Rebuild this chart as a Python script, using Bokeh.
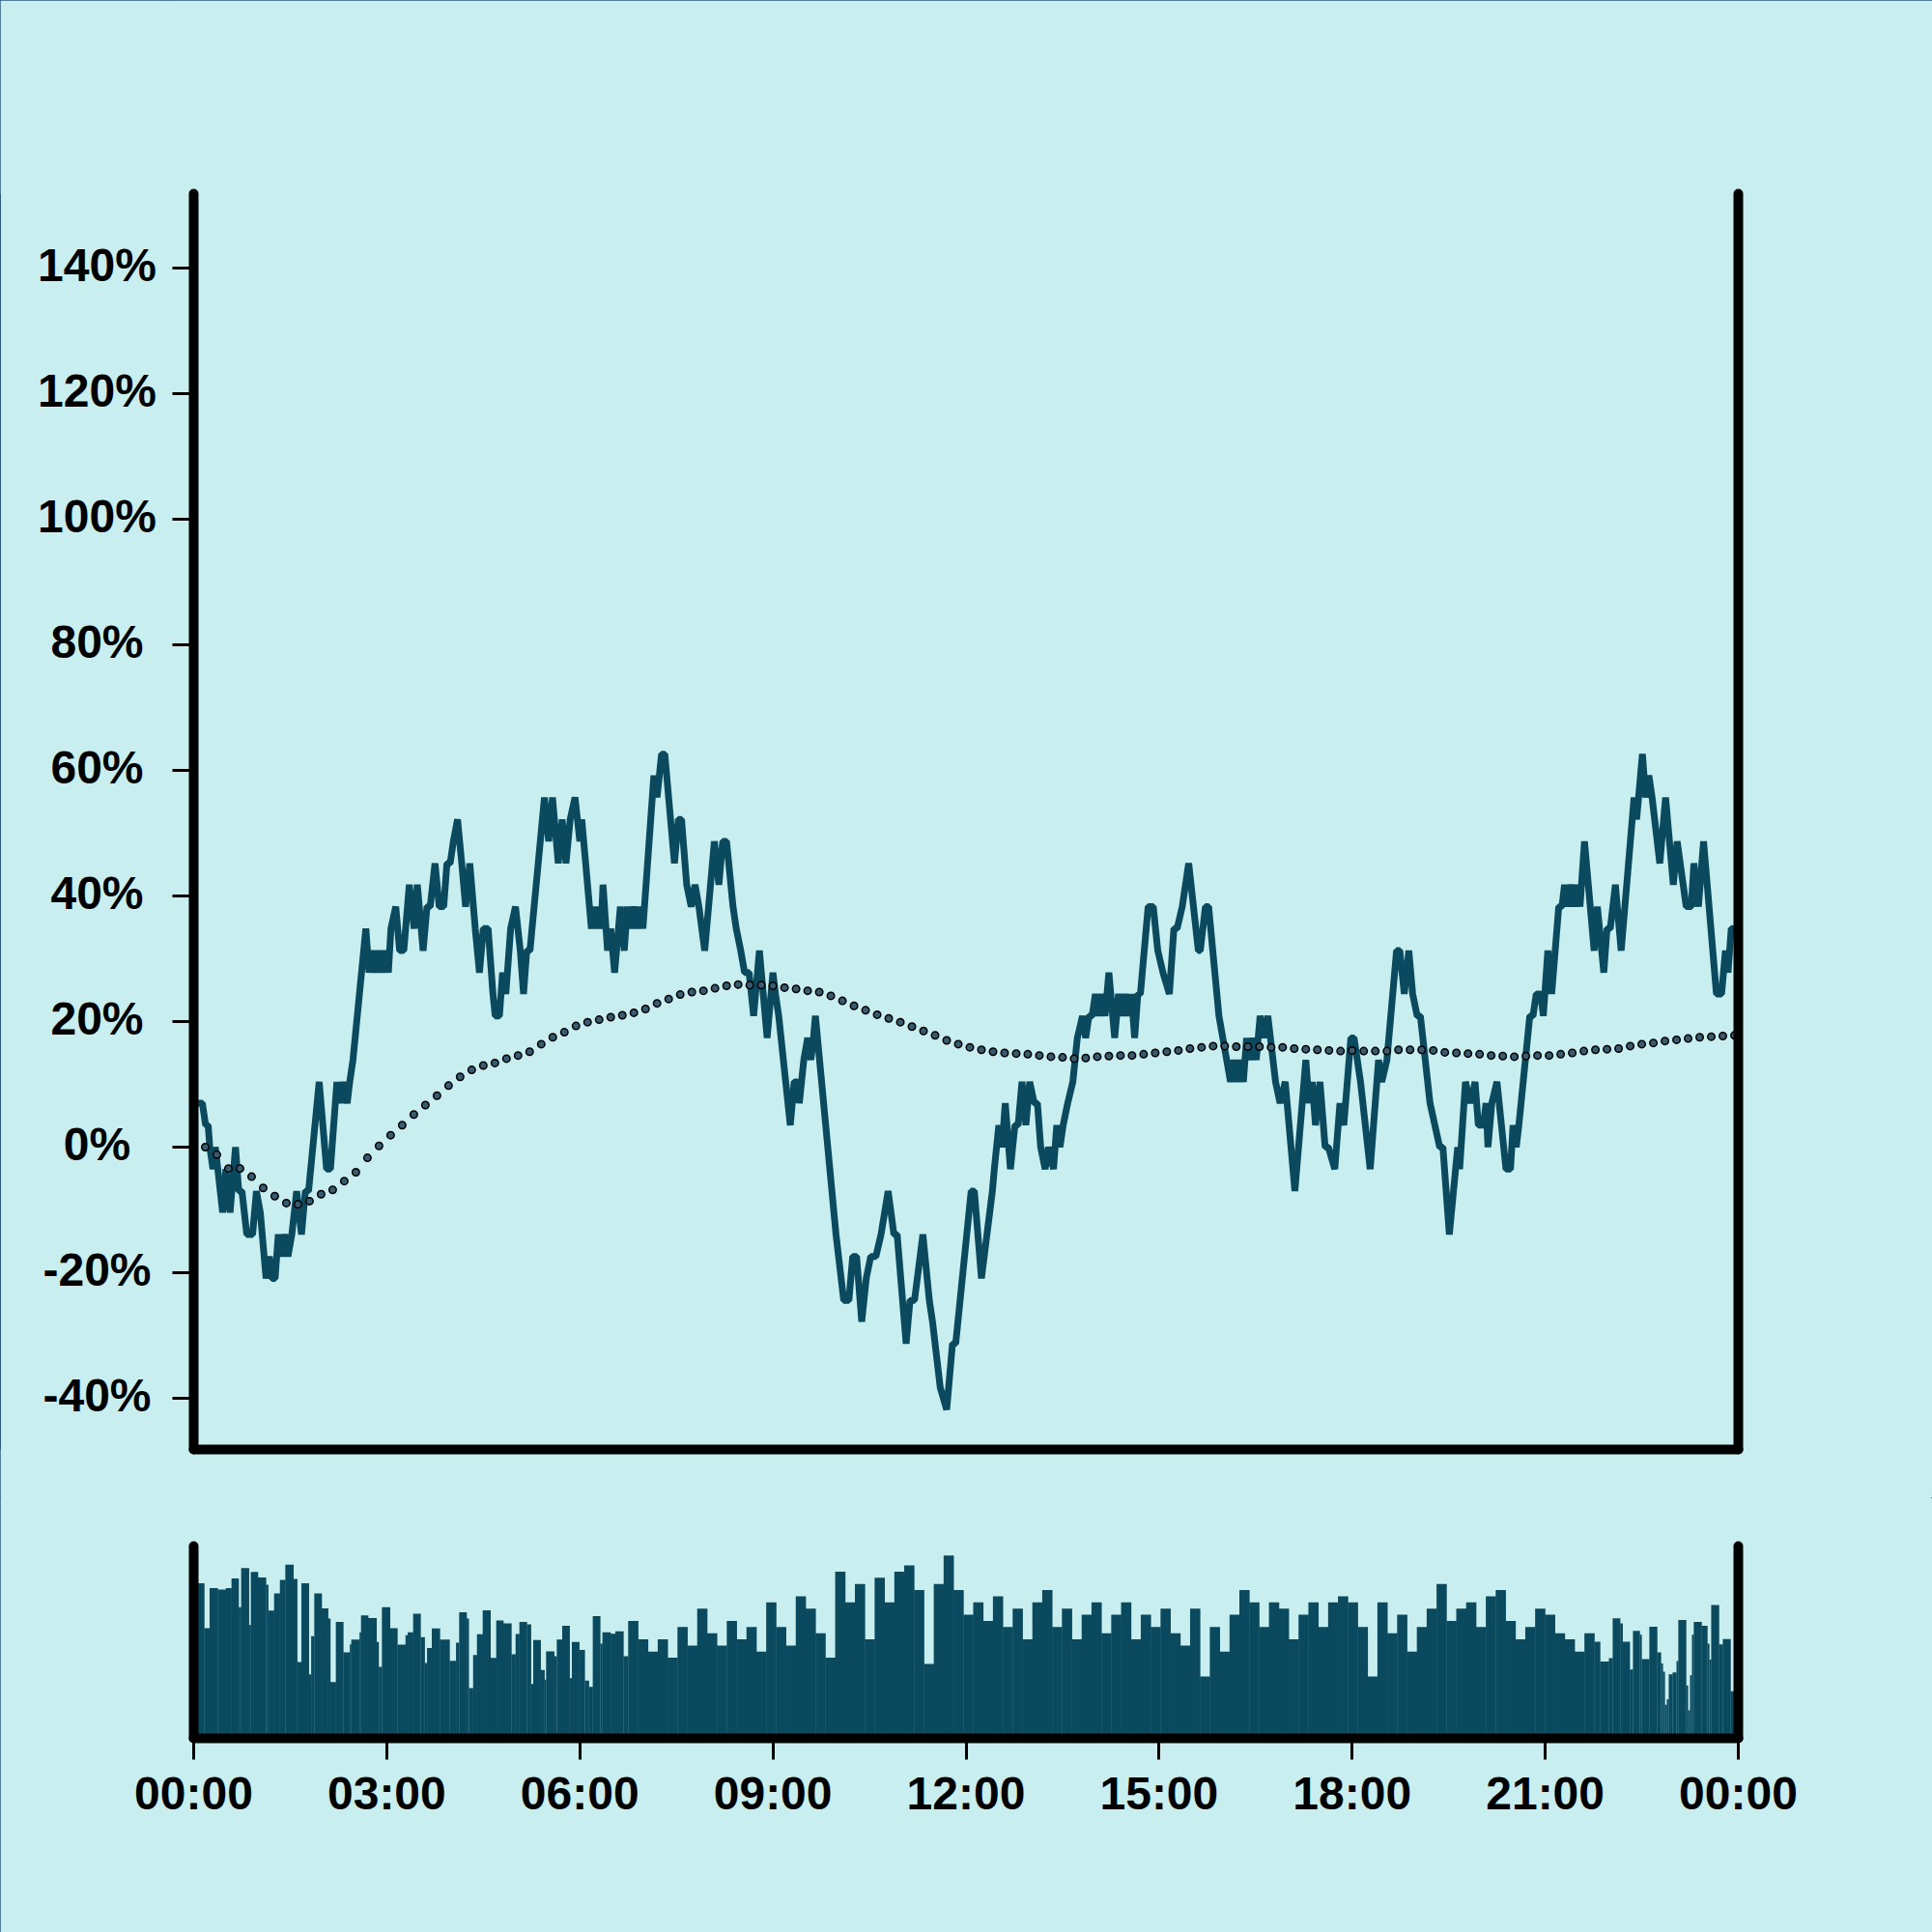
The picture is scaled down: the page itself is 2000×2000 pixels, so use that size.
from bokeh.plotting import figure
from bokeh.layouts import column, row
from bokeh.models import Range1d, LinearAxis, FixedTicker
from bokeh.embed import file_html
from bokeh.resources import INLINE
from bokeh.core.properties import value

BG = "#c8eef0"
INK = "#0b4a5e"
DOT_FILL = "#375b70"
FONT = "Liberation Sans"

# ---------------- data ----------------
line_hours = [
    0.0, 0.135, 0.185, 0.225, 0.25, 0.30, 0.335, 0.375, 0.45, 0.50, 0.565, 0.65, 0.70, 0.75, 0.825, 0.915,
    0.975, 1.035, 1.125, 1.175, 1.215, 1.265, 1.315, 1.365, 1.415, 1.465, 1.525, 1.60, 1.675, 1.735, 1.785,
    1.95, 2.065, 2.125, 2.225, 2.275, 2.325, 2.385, 2.425, 2.475, 2.675, 2.725, 2.775, 2.825, 2.875, 2.925,
    2.975, 3.025, 3.065, 3.14, 3.20, 3.265, 3.35, 3.425, 3.475, 3.565, 3.625, 3.675, 3.75, 3.815, 3.885,
    3.935, 3.985, 4.035, 4.10, 4.165, 4.225, 4.29, 4.375, 4.44, 4.50, 4.575, 4.65, 4.685, 4.75, 4.80, 4.85,
    4.925, 5.00, 5.075, 5.125, 5.175, 5.225, 5.45, 5.515, 5.575, 5.665, 5.725, 5.785, 5.85, 5.925, 6.00,
    6.03, 6.18, 6.22, 6.26, 6.30, 6.33, 6.36, 6.43, 6.48, 6.54, 6.63, 6.69, 6.74, 6.79, 6.84, 6.89, 6.94,
    6.98, 7.15, 7.20, 7.27, 7.32, 7.47, 7.53, 7.58, 7.66, 7.73, 7.79, 7.85, 7.94, 8.09, 8.16, 8.22, 8.28,
    8.38, 8.43, 8.50, 8.56, 8.63, 8.70, 8.79, 8.91, 9.00, 9.04, 9.09, 9.27, 9.33, 9.38, 9.41, 9.48, 9.54,
    9.59, 9.63, 9.66, 9.98, 10.02, 10.10, 10.18, 10.24, 10.30, 10.38, 10.45, 10.52, 10.60, 10.68, 10.79,
    10.88, 10.93, 11.07, 11.13, 11.20, 11.33, 11.43, 11.48, 11.60, 11.70, 11.79, 11.84, 12.08,
    12.13, 12.24, 12.41, 12.44, 12.51, 12.56, 12.61, 12.69, 12.76, 12.81, 12.87, 12.93, 12.99, 13.06, 13.11,
    13.16, 13.23, 13.28, 13.36, 13.41, 13.46, 13.51, 13.58, 13.66, 13.73, 13.81, 13.86, 13.91, 13.96, 14.01,
    14.06, 14.11, 14.16, 14.22, 14.31, 14.37, 14.42, 14.47, 14.52, 14.57, 14.62, 14.67, 14.71, 14.83, 14.91,
    14.98, 15.06, 15.16, 15.23, 15.28, 15.36, 15.46, 15.61, 15.64, 15.72, 15.77, 15.93, 15.99, 16.11, 16.16,
    16.21, 16.26, 16.31, 16.36, 16.41, 16.46, 16.51, 16.57, 16.63, 16.69, 16.81, 16.88, 16.96, 17.11, 17.28,
    17.33, 17.38, 17.43, 17.50, 17.58, 17.63, 17.73, 17.81, 17.87, 17.98, 18.03,
    18.13, 18.28, 18.41, 18.46, 18.54, 18.69, 18.74, 18.81, 18.88, 18.94, 19.01, 19.06, 19.21, 19.36, 19.41,
    19.51, 19.64, 19.67, 19.76, 19.84, 19.91, 19.96, 20.04, 20.08, 20.11, 20.17, 20.25, 20.39, 20.46, 20.50,
    20.55, 20.59, 20.76, 20.81, 20.86, 20.93, 20.97, 21.04, 21.10, 21.21, 21.26, 21.30, 21.35, 21.40, 21.45,
    21.50, 21.54, 21.61, 21.76, 21.81, 21.91, 21.96, 22.01, 22.09, 22.18, 22.38, 22.42, 22.51, 22.56, 22.61,
    22.66, 22.78, 22.87, 22.99, 23.05, 23.19, 23.27, 23.31, 23.38, 23.46, 23.66, 23.74, 23.80, 23.84, 23.89,
    24.0,
]
line_pct = [
    7.0, 7.0, 3.5, 3.5, 0.0, -3.5, 0.0, -3.5, -10.4, -3.5, -10.4, 0.0, -7.0, -7.0, -13.9, -13.9,
    -7.0, -10.4, -20.9, -17.4, -20.9, -20.9, -13.9, -17.4, -13.9, -17.4, -13.9, -7.0, -13.9, -7.0, -7.0,
    10.4, -3.5, -3.5, 10.4, 7.0, 10.4, 7.0, 10.4, 13.9, 34.8, 27.8, 31.3, 27.8, 31.3, 27.8,
    31.3, 27.8, 34.8, 38.3, 31.3, 31.3, 41.8, 34.8, 41.8, 31.3, 38.3, 38.3, 45.2, 38.3, 38.3,
    45.2, 45.2, 48.7, 52.2, 45.2, 38.3, 45.2, 34.8, 27.8, 34.8, 34.8, 24.4, 20.9, 20.9, 27.8, 24.4,
    34.8, 38.3, 31.3, 24.4, 31.3, 31.3, 55.7, 48.7, 55.7, 45.2, 52.2, 45.2, 52.2, 55.7, 48.7,
    52.2, 34.8, 38.3, 34.8, 38.3, 34.8, 41.8, 31.3, 34.8, 27.8, 38.3, 31.3, 38.3, 34.8, 38.3, 34.8, 38.3,
    34.8, 59.2, 55.7, 62.6, 62.6, 45.2, 52.2, 52.2, 41.8, 38.3, 41.8, 38.3, 31.3, 48.7, 41.8, 48.7, 48.7,
    38.3, 34.8, 31.3, 27.8, 27.8, 20.9, 31.3, 17.4, 27.8, 24.4, 20.9, 3.5, 10.4, 10.4, 7.0, 13.9, 17.4,
    13.9, 17.4, 20.9, -13.9, -17.4, -24.4, -24.4, -17.4, -17.4, -27.8, -20.9, -17.4, -17.4, -13.9, -7.0,
    -13.9, -13.9, -31.3, -24.4, -24.4, -13.9, -24.4, -27.8, -38.3, -41.8, -31.3, -31.3, -7.0,
    -7.0, -20.9, -7.0, -3.5, 3.5, 0.0, 7.0, -3.5, 3.5, 3.5, 10.4, 3.5, 10.4, 7.0, 7.0,
    0.0, -3.5, 0.0, -3.5, 3.5, 0.0, 3.5, 7.0, 10.4, 17.4, 20.9, 17.4, 20.9, 20.9, 24.4,
    20.9, 24.4, 20.9, 27.8, 17.4, 24.4, 20.9, 24.4, 20.9, 24.4, 17.4, 24.4, 24.4, 38.3, 38.3,
    31.3, 27.8, 24.4, 34.8, 34.8, 38.3, 45.2, 31.3, 31.3, 38.3, 38.3, 20.9, 17.4, 10.4, 13.9,
    10.4, 13.9, 10.4, 17.4, 13.9, 17.4, 13.9, 20.9, 17.4, 20.9, 10.4, 7.0, 10.4, -7.0, 13.9,
    7.0, 10.4, 3.5, 10.4, 0.0, 0.0, -3.5, 7.0, 3.5, 17.4, 17.4,
    10.4, -3.5, 13.9, 10.4, 13.9, 31.3, 31.3, 24.4, 31.3, 24.4, 20.9, 20.9, 7.0, 0.0, 0.0,
    -13.9, 0.0, -3.5, 10.4, 7.0, 10.4, 3.5, 3.5, 7.0, 0.0, 7.0, 10.4, -3.5, -3.5, 3.5,
    0.0, 3.5, 20.9, 20.9, 24.4, 24.4, 20.9, 31.3, 24.4, 38.3, 38.3, 41.8, 38.3, 41.8, 38.3,
    41.8, 38.3, 48.7, 31.3, 38.3, 27.8, 34.8, 34.8, 41.8, 31.3, 55.7, 52.2, 62.6, 55.7, 59.2,
    55.7, 45.2, 55.7, 41.8, 48.7, 38.3, 38.3, 45.2, 38.3, 48.7, 24.4, 24.4, 31.3, 27.8, 34.8,
    34.8,
]

# smoothed trend, one dot every 0.18 h
trend_step_h = 0.18
trend_pct = [
    0.6, 0.0, -1.2, -3.4, -3.4, -4.7, -6.5, -7.8, -8.9, -9.1, -8.6, -7.5, -6.8, -5.4, -4.0, -1.7,
    0.2, 1.9, 3.5, 5.2, 6.7, 8.2, 9.8, 11.2, 12.3, 13.0, 13.4, 14.1, 14.6, 15.2, 16.4, 17.5, 18.3,
    19.3, 19.9, 20.3, 20.7, 21.0, 21.4, 22.0, 22.9, 23.6, 24.3, 24.7, 24.9, 25.3, 25.7, 25.9, 25.8,
    25.8, 25.7, 25.4, 25.2, 24.9, 24.7, 24.1, 23.3, 22.5, 21.8, 21.1, 20.5, 19.9, 19.2, 18.5, 17.8,
    17.0, 16.4, 15.9, 15.5, 15.2, 15.0, 14.9, 14.8, 14.6, 14.4, 14.3, 14.1, 14.2, 14.4, 14.5, 14.6,
    14.6, 14.8, 15.0, 15.2, 15.4, 15.7, 15.9, 16.1, 16.1, 16.0, 16.0, 16.0, 15.9, 15.9, 15.7, 15.6,
    15.5, 15.4, 15.3, 15.4, 15.3, 15.3, 15.3, 15.5, 15.5, 15.5, 15.4, 15.1, 15.0, 14.9, 14.8, 14.6,
    14.5, 14.4, 14.5, 14.6, 14.6, 14.8, 15.0, 15.3, 15.5, 15.6, 15.7, 16.1, 16.4, 16.6, 16.9, 17.1,
    17.3, 17.5, 17.6, 17.7, 17.8,
]

# volume bars (arbitrary units, 100 = top of the lower panel)
# early part: bar edges (hours) and heights
vol_a_edges = [
    0.0, 0.165, 0.250, 0.375, 0.500, 0.590, 0.700, 0.740, 0.860, 0.890, 1.000, 1.125, 1.161, 1.251, 1.341,
    1.426, 1.551, 1.611, 1.676, 1.791, 1.826, 1.876, 1.991, 2.091, 2.126, 2.211, 2.326, 2.426, 2.451, 2.577,
    2.602, 2.712, 2.842, 2.877, 2.927, 3.052, 3.167, 3.292, 3.327, 3.412, 3.527, 3.592, 3.627, 3.702, 3.827,
    3.977, 4.077, 4.127, 4.242, 4.277, 4.343, 4.403, 4.493, 4.613, 4.703, 4.813, 4.938, 5.003, 5.063, 5.178,
    5.243, 5.278, 5.393, 5.453, 5.478, 5.603, 5.643, 5.728, 5.843, 5.878, 5.993, 6.078, 6.143, 6.203, 6.318,
    6.353, 6.479, 6.554, 6.679, 6.754,
]
vol_a = [
    80.7, 57.3, 78.2, 77.4, 78.2, 83.2, 68.2, 88.6, 58.9, 86.6, 83.7, 79.9, 66.5, 75.4, 82.4, 90.3, 82.9,
    39.7, 80.7, 33.3, 53.1, 75.4, 67.6, 62.3, 29.3, 60.6, 44.7, 48.9, 51.4, 55.1, 64.0, 62.6, 50.1, 37.2,
    68.2, 57.3, 48.7, 53.6, 55.1, 64.8, 52.6, 39.2, 47.0, 57.1, 51.4, 40.3, 49.7, 65.6, 62.3, 26.1, 43.4,
    54.1, 66.6, 41.8, 61.3, 59.8, 43.7, 54.3, 60.6, 59.3, 28.3, 51.1, 35.5, 30.5, 45.2, 42.7, 51.4, 58.6,
    31.3, 50.1, 46.0, 30.0, 26.8, 63.6, 49.2, 55.1, 54.4, 55.6, 42.7,
]
# middle part: evenly spaced bars between these two times
vol_b_span = (6.754, 21.765)
vol_b = [
    61.1, 51.5, 45.1, 51.5, 41.9, 57.9, 48.3, 67.5, 54.7, 48.3, 61.1, 51.5, 57.9, 45.1, 70.7, 57.9,
    48.3, 73.9, 67.5, 54.7, 41.9, 86.7, 70.7, 80.3, 51.5, 83.5, 70.7, 86.7, 89.9, 77.1, 38.7, 80.3,
    95.1, 77.1, 64.3, 70.7, 61.1, 73.9, 57.9, 67.5, 51.5, 70.7, 77.1, 57.9, 67.5, 51.5, 64.3, 70.7,
    54.7, 64.3, 70.7, 51.5, 64.3, 57.9, 67.5, 54.7, 48.3, 67.5, 32.2, 57.9, 45.1, 64.3, 77.1, 70.7,
    57.9, 70.7, 67.5, 51.5, 64.3, 70.7, 57.9, 70.7, 73.9, 70.7, 57.9, 32.2, 70.7, 54.7, 64.3, 45.1,
    57.9, 67.5, 80.3, 61.1, 67.5, 70.7, 57.9, 73.9, 77.1, 61.1, 51.5, 57.9, 67.5, 64.3, 54.7, 51.5,
    45.1, 54.7,
]
# late part: bar edges (hours) and heights
vol_c_edges = [
    21.765, 21.855, 21.990, 22.050, 22.165, 22.205, 22.315, 22.365, 22.470, 22.500, 22.620, 22.740, 22.800,
    22.830, 22.860, 22.890, 22.920, 22.980, 23.040, 23.070, 23.190, 23.220, 23.250, 23.280, 23.310, 23.431,
    23.521, 23.551, 23.581, 23.701, 23.761, 23.881, 24.0,
]
vol_c = [
    50.2, 40.0, 41.7, 62.4, 59.8, 50.2, 35.8, 55.9, 53.9, 41.2, 58.0, 44.7, 38.9, 34.7, 17.4, 20.4, 33.3,
    34.3, 40.2, 61.6, 27.5, 14.6, 32.8, 53.9, 60.6, 58.6, 49.2, 40.9, 69.3, 48.9, 51.6, 24.5,
]

y_ticks = [-40, -20, 0, 20, 40, 60, 80, 100, 120, 140]
y_tick_labels = ["-40%", "-20%", "0%", "20%", "40%", "60%", "80%", "100%", "120%", "140%"]
x_ticks = [0, 3, 6, 9, 12, 15, 18, 21, 24]
x_tick_labels = ["00:00", "03:00", "06:00", "09:00", "12:00", "15:00", "18:00", "21:00", "00:00"]

assert len(line_hours) == len(line_pct)
assert len(vol_a_edges) == len(vol_a) + 1 and len(vol_c_edges) == len(vol_c) + 1
trend_hours = [i * trend_step_h for i in range(len(trend_pct))]

bar_left, bar_right, bar_top = [], [], []
for i, v in enumerate(vol_a):
    bar_left.append(vol_a_edges[i]); bar_right.append(vol_a_edges[i + 1]); bar_top.append(v)
b_step = (vol_b_span[1] - vol_b_span[0]) / len(vol_b)
for i, v in enumerate(vol_b):
    bar_left.append(vol_b_span[0] + i * b_step); bar_right.append(vol_b_span[0] + (i + 1) * b_step); bar_top.append(v)
for i, v in enumerate(vol_c):
    bar_left.append(vol_c_edges[i]); bar_right.append(vol_c_edges[i + 1]); bar_top.append(v)
bar_x = [(l + r) / 2 for l, r in zip(bar_left, bar_right)]
bar_w = [(r - l) * 1.04 for l, r in zip(bar_left, bar_right)]


# ---------------- helpers ----------------
def style_axis(ax, ticks, labels=None, standoff=8):
    ax.ticker = FixedTicker(ticks=ticks)
    ax.axis_line_width = 10
    ax.axis_line_color = "black"
    ax.axis_line_cap = "round"
    ax.major_tick_line_width = 3
    ax.major_tick_line_color = "black"
    ax.major_tick_in = 0
    ax.major_tick_out = 22
    ax.minor_tick_line_color = None
    ax.minor_tick_out = 0
    ax.major_label_text_font = FONT
    ax.major_label_text_font_style = "bold"
    ax.major_label_text_font_size = "48px"
    ax.major_label_text_color = "black"
    ax.major_label_standoff = standoff
    if labels is not None:
        ax.major_label_overrides = {t: l for t, l in zip(ticks, labels)}


common = dict(output_backend="svg", toolbar_location=None,
              border_fill_color=BG, background_fill_color=None, outline_line_color=None)

x_range = Range1d(0, 24)
y_range = Range1d(-48.15, 151.85)

# ---------------- y tick label column ----------------
LABEL_W = 172
labels_fig = figure(
    frame_width=LABEL_W, frame_height=1300, x_range=Range1d(0, LABEL_W), y_range=y_range,
    min_border_left=0, min_border_right=0, min_border_top=200, min_border_bottom=50,
    x_axis_location=None, y_axis_location=None, **common,
)
labels_fig.grid.visible = False
labels_fig.text(
    x=[100] * len(y_ticks), y=y_ticks, text=y_tick_labels,
    text_font=value(FONT), text_font_style="bold", text_font_size=value("48px"),
    text_color="black", text_align="center", text_baseline="middle", y_offset=-3,
)

# ---------------- main panel ----------------
main = figure(
    frame_width=1599, frame_height=1300, x_range=x_range, y_range=y_range,
    min_border_left=200 - LABEL_W, min_border_right=201, min_border_top=200, min_border_bottom=50,
    **common,
)
main.grid.visible = False
style_axis(main.yaxis[0], y_ticks, [""] * len(y_ticks), standoff=0)
style_axis(main.xaxis[0], [])
right_main = LinearAxis()
style_axis(right_main, [])
main.add_layout(right_main, "right")

main.line(line_hours, line_pct, line_width=7, line_color=INK, line_join="bevel")
main.scatter(trend_hours, trend_pct, size=7.5, fill_color=DOT_FILL, line_color="black", line_width=1.5)

# ---------------- volume panel ----------------
bars = figure(
    frame_width=1599, frame_height=199, x_range=x_range, y_range=Range1d(0, 100),
    min_border_left=200, min_border_right=201, min_border_top=50, min_border_bottom=201,
    **common,
)
bars.grid.visible = False
bars.vbar(x=bar_x, width=bar_w, top=bar_top, bottom=0, fill_color=INK, line_color=None)
style_axis(bars.xaxis[0], x_ticks, x_tick_labels, standoff=8)
style_axis(bars.yaxis[0], [])
right_bars = LinearAxis()
style_axis(right_bars, [])
bars.add_layout(right_bars, "right")

layout = column(
    row(labels_fig, main), bars,
    styles={"background-color": BG, "outline": "1px solid #2c5a82", "outline-offset": "-1px"},
)
open("out.html", "w").write(file_html(layout, INLINE))
